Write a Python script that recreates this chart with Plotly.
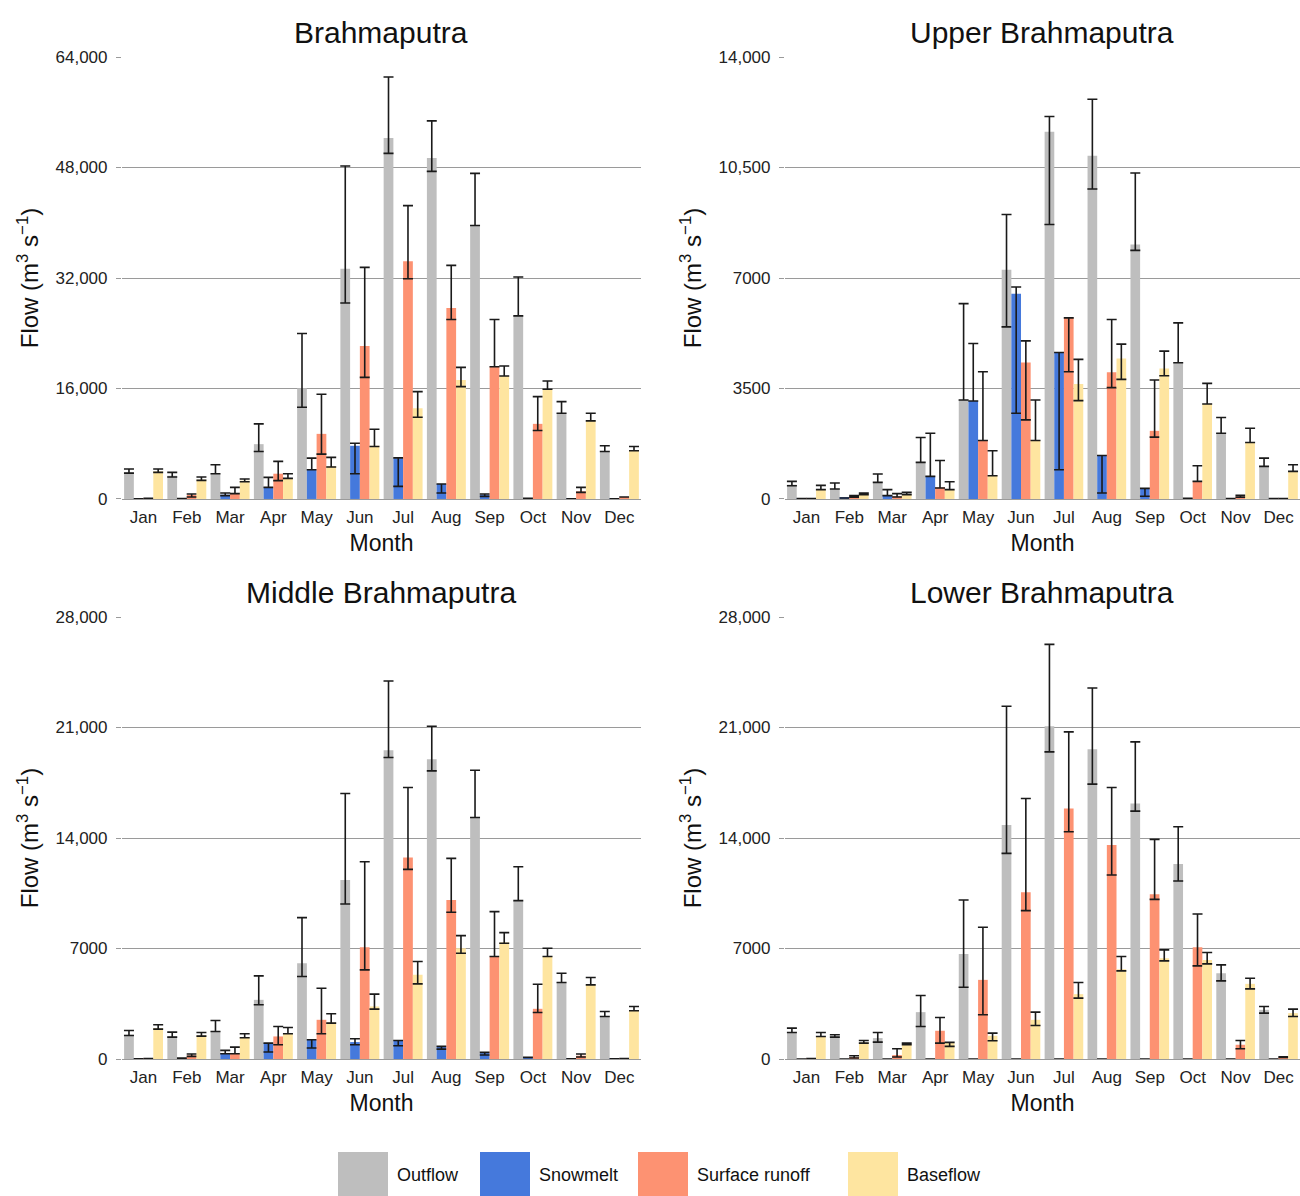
import plotly.graph_objects as go

months = ["Jan", "Feb", "Mar", "Apr", "May", "Jun", "Jul", "Aug", "Sep", "Oct", "Nov", "Dec"]
series_names = ["Outflow", "Snowmelt", "Surface runoff", "Baseflow"]
series_colors = ["#BEBEBE", "#4579DC", "#FD9272", "#FEE5A0"]
panel_titles = ["Brahmaputra", "Upper Brahmaputra", "Middle Brahmaputra", "Lower Brahmaputra"]

# ---------------- Brahmaputra ----------------
bra_outflow = [3850, 3370, 3660, 7940, 16030, 33350, 52260, 49370, 39600, 26520, 12420, 6880]
bra_outflow_hi = [4330, 3850, 4960, 10880, 23970, 48220, 61110, 54760, 47160, 32150, 14100, 7700]
bra_outflow_lo = [3750, 3180, 3660, 6880, 13280, 28390, 50050, 47450, 39600, 26520, 12420, 6880]
bra_snow = [30, 50, 620, 1680, 4330, 7700, 5900, 2170, 630, 80, 40, 30]
bra_snow_hi = [30, 50, 870, 3130, 5920, 8080, 5950, 2170, 720, 80, 40, 30]
bra_snow_lo = [30, 50, 480, 1680, 4230, 3660, 1830, 870, 380, 80, 40, 30]
bra_surf = [100, 580, 870, 3660, 9430, 22140, 34410, 27670, 19150, 10880, 1110, 290]
bra_surf_hi = [100, 720, 1680, 5440, 15160, 33540, 42490, 33830, 25990, 14820, 1680, 290]
bra_surf_lo = [100, 290, 770, 2650, 6500, 17610, 31900, 25990, 19150, 9910, 960, 290]
bra_base = [4000, 2790, 2650, 3030, 4720, 7700, 13140, 17230, 17810, 15880, 11310, 6980]
bra_base_hi = [4330, 3180, 2890, 3660, 6020, 10100, 15540, 19060, 19250, 17080, 12420, 7600]
bra_base_lo = [3850, 2700, 2500, 2980, 4620, 7600, 11840, 16270, 17810, 15880, 11310, 6980]

# ---------------- Upper Brahmaputra ----------------
upp_outflow = [453, 316, 526, 1158, 3137, 7263, 11631, 10874, 8063, 4316, 2084, 1032]
upp_outflow_hi = [558, 505, 790, 1947, 6189, 9010, 12116, 12663, 10326, 5579, 2579, 1295]
upp_outflow_lo = [421, 316, 526, 1158, 3137, 5453, 8695, 9821, 7874, 4316, 2084, 1032]
upp_snow = [10, 30, 126, 716, 3105, 6505, 4642, 1379, 337, 20, 10, 10]
upp_snow_hi = [10, 30, 295, 2084, 4926, 6716, 4642, 1379, 337, 20, 10, 10]
upp_snow_lo = [10, 30, 105, 716, 3105, 2716, 926, 190, 84, 20, 10, 10]
upp_surf = [10, 84, 84, 368, 1853, 4326, 5737, 4011, 2158, 558, 80, 10]
upp_surf_hi = [10, 105, 168, 1221, 4032, 5010, 5737, 5684, 3768, 1053, 116, 10]
upp_surf_lo = [10, 60, 63, 347, 1853, 2505, 4032, 3526, 1958, 558, 60, 10]
upp_base = [316, 158, 158, 295, 737, 1853, 3642, 4453, 4137, 3011, 1789, 874]
upp_base_hi = [432, 190, 210, 547, 1526, 3137, 4421, 4905, 4684, 3663, 2242, 1084]
upp_base_lo = [295, 137, 137, 295, 737, 1853, 3116, 3789, 3905, 3011, 1789, 874]

# ---------------- Middle Brahmaputra ----------------
mid_outflow = [1539, 1433, 1750, 3752, 6071, 11341, 19562, 18993, 15304, 10034, 4848, 2698]
mid_outflow_hi = [1813, 1707, 2445, 5270, 8959, 16822, 23947, 21080, 18297, 12184, 5439, 3014]
mid_outflow_lo = [1497, 1391, 1750, 3436, 5228, 9823, 19099, 18255, 15304, 10034, 4848, 2698]
mid_snow = [20, 60, 379, 1012, 1223, 1075, 1180, 801, 379, 105, 20, 20]
mid_snow_hi = [20, 60, 548, 1012, 1223, 1286, 1180, 801, 421, 105, 20, 20]
mid_snow_lo = [20, 60, 337, 443, 696, 906, 843, 632, 253, 105, 20, 20]
mid_surf = [40, 232, 358, 1433, 2487, 7083, 12774, 10076, 6493, 3183, 211, 40]
mid_surf_hi = [40, 316, 759, 2066, 4490, 12500, 17201, 12711, 9338, 4743, 316, 40]
mid_surf_lo = [40, 169, 337, 906, 1602, 5649, 12016, 9296, 6493, 2951, 126, 40]
mid_base = [1960, 1497, 1391, 1602, 2319, 3331, 5333, 7020, 7378, 6493, 4701, 3057]
mid_base_hi = [2171, 1686, 1602, 2003, 2867, 4111, 6176, 7821, 8010, 7020, 5165, 3331]
mid_base_lo = [1897, 1455, 1349, 1602, 2277, 3162, 4764, 6703, 7336, 6493, 4701, 3057]

# ---------------- Lower Brahmaputra ----------------
low_outflow = [1686, 1433, 1328, 2972, 6661, 14819, 21080, 19625, 16190, 12353, 5439, 3120]
low_outflow_hi = [1960, 1539, 1686, 4026, 10076, 22345, 26266, 23504, 20089, 14714, 5966, 3331]
low_outflow_lo = [1686, 1391, 1075, 2066, 4553, 13027, 19457, 17412, 15705, 11278, 4954, 2909]
low_snow = [0, 0, 0, 0, 0, 0, 0, 0, 0, 0, 0, 0]
low_snow_hi = [0, 0, 0, 0, 0, 0, 0, 0, 0, 0, 0, 0]
low_snow_lo = [0, 0, 0, 0, 0, 0, 0, 0, 0, 0, 0, 0]
low_surf = [40, 126, 253, 1792, 5017, 10561, 15873, 13554, 10435, 7083, 906, 126]
low_surf_hi = [40, 211, 653, 2635, 8348, 16506, 20722, 17201, 13913, 9191, 1180, 150]
low_surf_lo = [40, 63, 126, 1012, 2804, 9402, 14398, 11657, 10118, 5902, 653, 100]
low_base = [1433, 1054, 970, 1012, 1476, 2487, 4111, 5692, 6387, 6282, 4764, 2909]
low_base_hi = [1686, 1180, 1012, 1054, 1644, 2972, 4848, 6493, 6914, 6746, 5122, 3162]
low_base_lo = [1433, 1012, 906, 801, 1159, 2129, 3858, 5586, 6219, 6029, 4448, 2698]

# tick labels
bra_ticks = [0, 16000, 32000, 48000, 64000]
bra_ticktext = ["0", "16,000", "32,000", "48,000", "64,000"]
upp_ticks = [0, 3500, 7000, 10500, 14000]
upp_ticktext = ["0", "3500", "7000", "10,500", "14,000"]
mid_ticks = [0, 7000, 14000, 21000, 28000]
mid_ticktext = ["0", "7000", "14,000", "21,000", "28,000"]
low_ticks = [0, 7000, 14000, 21000, 28000]
low_ticktext = ["0", "7000", "14,000", "21,000", "28,000"]

panels = [
    ("x", "y", [(bra_outflow, bra_outflow_hi, bra_outflow_lo), (bra_snow, bra_snow_hi, bra_snow_lo),
                (bra_surf, bra_surf_hi, bra_surf_lo), (bra_base, bra_base_hi, bra_base_lo)]),
    ("x2", "y2", [(upp_outflow, upp_outflow_hi, upp_outflow_lo), (upp_snow, upp_snow_hi, upp_snow_lo),
                  (upp_surf, upp_surf_hi, upp_surf_lo), (upp_base, upp_base_hi, upp_base_lo)]),
    ("x3", "y3", [(mid_outflow, mid_outflow_hi, mid_outflow_lo), (mid_snow, mid_snow_hi, mid_snow_lo),
                  (mid_surf, mid_surf_hi, mid_surf_lo), (mid_base, mid_base_hi, mid_base_lo)]),
    ("x4", "y4", [(low_outflow, low_outflow_hi, low_outflow_lo), (low_snow, low_snow_hi, low_snow_lo),
                  (low_surf, low_surf_hi, low_surf_lo), (low_base, low_base_hi, low_base_lo)]),
]

fig = go.Figure()
for xa, ya, series in panels:
    for name, color, (vals, hi, lo) in zip(series_names, series_colors, series):
        fig.add_trace(go.Bar(
            x=months, y=vals, name=name, marker_color=color, marker_line_width=0,
            xaxis=xa, yaxis=ya, showlegend=False,
            error_y=dict(type="data", symmetric=False,
                         array=[h - v for h, v in zip(hi, vals)],
                         arrayminus=[v - l for v, l in zip(vals, lo)],
                         color="#1a1a1a", thickness=1.6, width=5),
        ))

FONT = "Liberation Sans, Arial, sans-serif"
xl = [0.0938, 0.4931]
xr = [0.6038, 1.0]
yt = [0.5828, 0.9523]
yb = [0.1145, 0.4841]

def xaxis(domain, anchor):
    return dict(domain=domain, anchor=anchor, type="category", showgrid=False,
                showline=True, linecolor="#9a9a9a", linewidth=1, ticks="",
                ticklabelstandoff=3,
                tickfont=dict(size=17, color="#222"), automargin=False,
                title=dict(text="Month", font=dict(size=23, color="#111"), standoff=8))

def yaxis(domain, anchor, rng, tv, tt):
    return dict(domain=domain, anchor=anchor, range=rng, tickvals=tv, ticktext=tt,
                showgrid=True, gridcolor="#9a9a9a", gridwidth=1, zeroline=False,
                ticks="outside", ticklen=5, tickcolor="#9a9a9a", showline=False,
                ticklabelstandoff=5,
                tickfont=dict(size=17, color="#222"), automargin=False,
                title=dict(text="Flow (m<sup>3</sup> s<sup>−1</sup>)", font=dict(size=24, color="#111"),
                           standoff=10))

fig.update_layout(
    width=1300, height=1196,
    margin=dict(l=0, r=0, t=0, b=0),
    paper_bgcolor="white", plot_bgcolor="white",
    font=dict(family=FONT, color="#222"),
    barmode="group", bargap=0.1, bargroupgap=0,
    showlegend=False,
    xaxis=xaxis(xl, "y"), xaxis2=xaxis(xr, "y2"), xaxis3=xaxis(xl, "y3"), xaxis4=xaxis(xr, "y4"),
    yaxis=yaxis(yt, "x", [0, 64000], bra_ticks, bra_ticktext),
    yaxis2=yaxis(yt, "x2", [0, 14000], upp_ticks, upp_ticktext),
    yaxis3=yaxis(yb, "x3", [0, 28000], mid_ticks, mid_ticktext),
    yaxis4=yaxis(yb, "x4", [0, 28000], low_ticks, low_ticktext),
)

# panel titles
title_pos = [((xl[0] + xl[1]) / 2, 0.9732), ((xr[0] + xr[1]) / 2, 0.9732),
             ((xl[0] + xl[1]) / 2, 0.5050), ((xr[0] + xr[1]) / 2, 0.5050)]
for t, (px, py) in zip(panel_titles, title_pos):
    fig.add_annotation(text=t, x=px, y=py, xref="paper", yref="paper", showarrow=False,
                       xanchor="center", yanchor="middle", font=dict(size=30, color="#111", family=FONT))

# manual legend
leg_sq_x = [338, 480, 638, 848]
for name, color, sx in zip(series_names, series_colors, leg_sq_x):
    fig.add_shape(type="rect", xref="paper", yref="paper",
                  x0=sx / 1300, x1=(sx + 50) / 1300, y0=0, y1=44 / 1196,
                  fillcolor=color, line_width=0)
    fig.add_annotation(text=name, x=(sx + 57) / 1300, y=21 / 1196, xref="paper", yref="paper",
                       showarrow=False, xanchor="left", yanchor="middle",
                       font=dict(size=18, color="#111", family=FONT))

fig.write_html("out.html", config={"displayModeBar": False},
               post_script="document.body.style.margin='0';document.body.style.overflow='hidden';")
